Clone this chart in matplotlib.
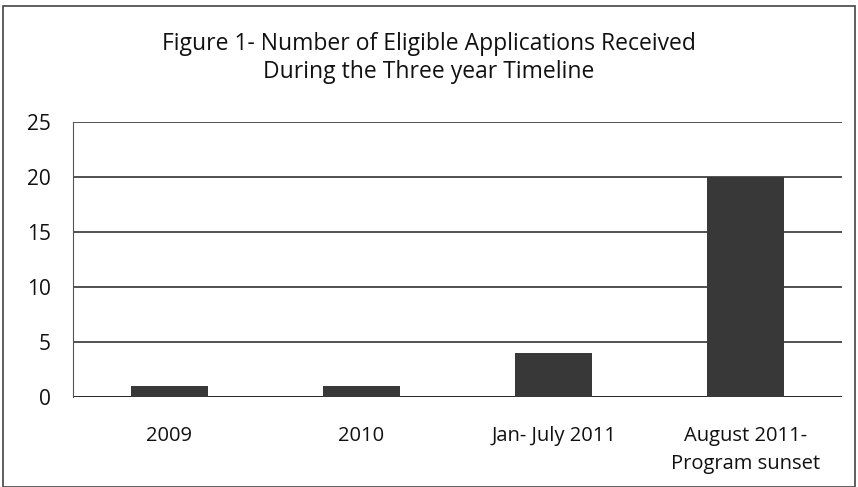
import matplotlib.pyplot as plt
from matplotlib.patches import Rectangle

categories = ["2009", "2010", "Jan- July 2011", "August 2011-\nProgram sunset"]
applications = [1, 1, 4, 20]
y_ticks = [0, 5, 10, 15, 20, 25]
title = "Figure 1- Number of Eligible Applications Received\nDuring the Three year Timeline"

plt.rcParams["font.family"] = ["Open Sans", "DejaVu Sans"]

fig = plt.figure(figsize=(8.58, 4.87), dpi=100)
ax = fig.add_axes([73 / 858, 1 - 397 / 487, (842 - 73) / 858, (397 - 122) / 487])

x = range(len(categories))
ax.bar(x, applications, width=0.4, color="#383838", zorder=3)

ax.set_xlim(-0.5, len(categories) - 0.5)
ax.set_ylim(0, 25)
ax.set_yticks(y_ticks)
ax.set_xticks(list(x))
ax.set_xticklabels(categories, fontsize=14.5, linespacing=1.5)
ax.tick_params(axis="both", length=0, colors="#111111")
ax.tick_params(axis="y", pad=16, labelsize=15)
ax.tick_params(axis="x", pad=21)
ax.yaxis.grid(True, color="#222222", lw=1.1, zorder=0)

for side in ["top", "right", "bottom"]:
    ax.spines[side].set_visible(False)
ax.spines["left"].set_color("#555555")
ax.spines["left"].set_linewidth(0.8)
ax.axhline(0, color="#222222", lw=1.2, zorder=2)

fig.text(0.5, 1 - 58 / 487, title, ha="center", va="center", fontsize=16.5,
         linespacing=1.2, color="#111111")

# chart frame
fig.patches.append(Rectangle((3 / 858, 0), 852 / 858, 1 - 6 / 487, transform=fig.transFigure,
                             fill=False, edgecolor="#444444", lw=1.2))

fig.savefig("out.png", dpi=100)
